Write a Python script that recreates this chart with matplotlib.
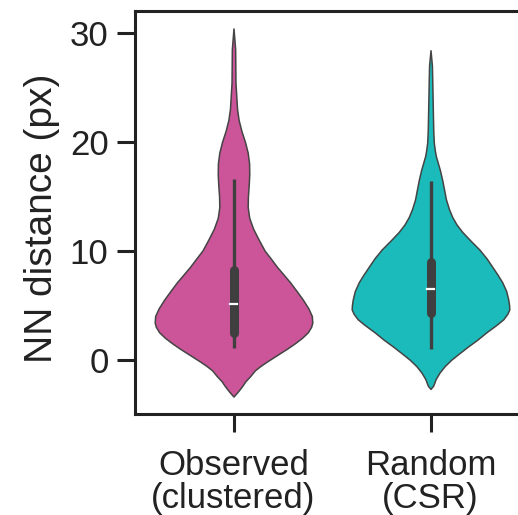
import matplotlib
matplotlib.use("Agg")
import matplotlib.pyplot as plt
import numpy as np

plt.rcParams['font.family'] = ['Liberation Sans', 'DejaVu Sans']

groups = ['Observed\n(clustered)', 'Random\n(CSR)']
colors = ['#CC5599', '#1BBBBB']

# violin outlines: y level and relative width (1 = widest)
obs_y = [30.4, 28.5, 25.4, 23.0, 22.0, 21.0, 20.0, 19.0, 18.0, 17.0, 16.0, 15.0,
         14.0, 13.0, 12.0, 11.0, 10.0, 9.3, 8.5, 7.8, 7.1, 6.3, 5.5, 4.7, 4.0,
         3.4, 3.0, 2.5, 2.0, 1.5, 1.0, 0.3, -0.2, -0.6, -1.0, -1.5, -2.0, -2.4,
         -2.9, -3.4]
obs_w = [0.0, 0.021, 0.025, 0.045, 0.065, 0.1, 0.145, 0.18, 0.198, 0.2, 0.193, 0.183,
         0.18, 0.2, 0.25, 0.32, 0.395, 0.47, 0.553, 0.635, 0.717, 0.8, 0.88, 0.95, 0.994,
         1.0, 0.985, 0.943, 0.87, 0.78, 0.68, 0.528, 0.42, 0.34, 0.27, 0.214, 0.15, 0.113,
         0.06, 0.0]
rnd_y = [28.4, 27.0, 25.7, 22.7, 21.0, 19.9, 19.2, 18.7, 18.0, 17.4, 16.5, 15.5,
         14.7, 13.8, 13.1, 12.4, 11.7, 10.9, 10.1, 9.3, 8.5, 7.8, 7.1, 6.3, 5.5,
         5.0, 4.6, 4.2, 3.7, 3.2, 2.5, 1.8, 1.2, 0.6, 0.0, -0.6, -1.2, -1.8, -2.4, -2.7]
rnd_w = [0.0, 0.018, 0.022, 0.03, 0.035, 0.042, 0.055, 0.067, 0.095, 0.119, 0.148, 0.175,
         0.196, 0.235, 0.275, 0.33, 0.405, 0.51, 0.62, 0.71, 0.785, 0.85, 0.91, 0.96, 0.987,
         0.997, 1.0, 0.975, 0.924, 0.84, 0.709, 0.59, 0.476, 0.37, 0.266, 0.18, 0.114, 0.065,
         0.034, 0.0]

# box stats: whisker low, q1, median, q3, whisker high
obs_box = [1.1, 2.4, 5.1, 8.25, 16.6]
rnd_box = [1.0, 4.3, 6.5, 9.0, 16.4]

profiles = [(obs_y, obs_w, obs_box), (rnd_y, rnd_w, rnd_box)]

fig = plt.figure(figsize=(5.18, 5.15), dpi=100)
ax = fig.add_axes([135 / 518, 101 / 515, 394 / 518, 403 / 515])

half = 0.4
for i, (ys, ws, box) in enumerate(profiles):
    ys = np.array(ys)
    ws = np.array(ws) * half
    ax.fill_betweenx(ys, i - ws, i + ws, facecolor=colors[i], edgecolor='#444444',
                     linewidth=1.1, zorder=2)
    lo, q1, med, q3, hi = box
    ax.plot([i, i], [lo, hi], color='#3f3f3f', lw=2.4, solid_capstyle='butt', zorder=3)
    ax.plot([i, i], [q1, q3], color='#3f3f3f', lw=6.5, solid_capstyle='round', zorder=4)
    ax.plot([i - 0.017, i + 0.017], [med, med], color='white', lw=1.6, zorder=5)

ax.set_xlim(-0.5, 1.5)
ax.set_ylim(-5, 32)
ax.set_xticks([0, 1])
ax.set_xticklabels(groups, linespacing=1.0)
ax.set_yticks([0, 10, 20, 30])
ax.set_ylabel('NN distance (px)', fontsize=28, color='#222222')
ax.yaxis.set_label_coords(-0.19, 0.485)
ax.tick_params(axis='both', labelsize=25, length=13, width=2.2, colors='#222222')
ax.tick_params(axis='y', pad=6)
ax.tick_params(axis='x', pad=12)
for s in ax.spines.values():
    s.set_linewidth(2.2)
    s.set_color('#222222')

fig.savefig('out.png', dpi=100)
